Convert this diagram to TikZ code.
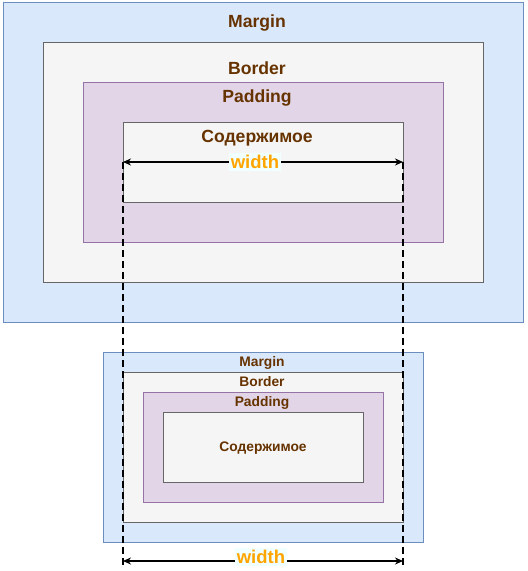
\documentclass[tikz,border=0pt]{standalone}
\usepackage{fontspec}
\setmainfont{Liberation Sans}
\usetikzlibrary{arrows.meta}

\definecolor{marginfill}{HTML}{DAE8FC}
\definecolor{margindraw}{HTML}{6C8EBF}
\definecolor{greyfill}{HTML}{F5F5F5}
\definecolor{greydraw}{HTML}{666666}
\definecolor{padfill}{HTML}{E1D5E7}
\definecolor{paddraw}{HTML}{9673A6}
\definecolor{lbltext}{HTML}{663300}
\definecolor{widthtext}{HTML}{FFA500}
\definecolor{widthbg}{HTML}{F0FFFF}

\tikzset{
    marginbox/.style={draw=margindraw, fill=marginfill, rectangle, inner sep=0pt},
    borderbox/.style={draw=greydraw, fill=greyfill, rectangle, inner sep=0pt},
    padbox/.style={draw=paddraw, fill=padfill, rectangle, inner sep=0pt},
    contentbox/.style={draw=greydraw, fill=greyfill, rectangle, inner sep=0pt},
    biglbl/.style={text=lbltext, font=\fontsize{17.6}{20}\selectfont\bfseries},
    smalllbl/.style={text=lbltext, font=\fontsize{13.8}{16}\selectfont\bfseries},
    widthlbl/.style={text=widthtext, fill=widthbg, inner sep=2pt, font=\fontsize{18.5}{20}\selectfont\bfseries},
    dimline/.style={{Stealth[length=8pt,width=7pt]}-{Stealth[length=8pt,width=7pt]}, line width=1.2pt},
    guide/.style={dash pattern=on 7pt off 4pt, line width=1.8pt}
}

\begin{document}
\begin{tikzpicture}[x=1pt, y=-1pt]
    \useasboundingbox[fill=white] (0,0) rectangle (528,571);

    % upper box model
    \node[marginbox, minimum width=520pt, minimum height=320pt] (margin1) at (263,162) {};
    \node[borderbox, minimum width=440pt, minimum height=240pt] (border1) at (263,162) {};
    \node[padbox, minimum width=360pt, minimum height=160pt] (pad1) at (263,162) {};
    \node[contentbox, minimum width=280pt, minimum height=80pt] (content1) at (263,162) {};

    \node[biglbl] (mlbl1) at (257,23) {Margin};
    \node[biglbl] (blbl1) at (257,68) {Border};
    \node[biglbl] (plbl1) at (257,98) {Padding};
    \node[biglbl] (clbl1) at (257,138) {Содержимое};

    % lower box model
    \node[marginbox, minimum width=320pt, minimum height=190pt] (margin2) at (263,447) {};
    \node[borderbox, minimum width=280pt, minimum height=150pt] (border2) at (263,447) {};
    \node[padbox, minimum width=240pt, minimum height=110pt] (pad2) at (263,447) {};
    \node[contentbox, minimum width=200pt, minimum height=70pt] (content2) at (263,447) {};

    \node[smalllbl] (mlbl2) at (262,363) {Margin};
    \node[smalllbl] (blbl2) at (262,382) {Border};
    \node[smalllbl] (plbl2) at (262,403) {Padding};
    \node[smalllbl] (clbl2) at (263,448) {Содержимое};

    % width guides
    \coordinate (w1l) at (123,162);
    \coordinate (w1r) at (403,162);
    \coordinate (w2l) at (123,561);
    \coordinate (w2r) at (403,561);
    \coordinate (g1b) at (123,566);
    \coordinate (g2b) at (403,566);

    \draw[guide] (w1l) -- (g1b);
    \draw[guide] (w1r) -- (g2b);
    \draw[dimline] (w1l) -- (w1r);
    \draw[dimline] (w2l) -- (w2r);

    \node[widthlbl] (wlbl1) at (255,162) {width};
    \node[widthlbl] (wlbl2) at (261,557) {width};
\end{tikzpicture}
\end{document}
